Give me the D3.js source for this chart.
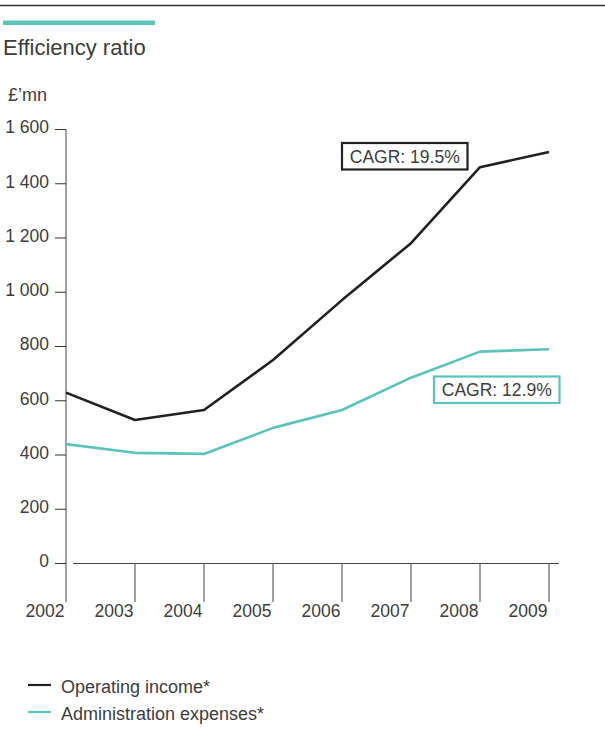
<!DOCTYPE html>
<html>
<head>
<meta charset="utf-8">
<script src="https://cdn.jsdelivr.net/npm/d3@7"></script>
<style>
  html, body { margin: 0; padding: 0; background: #fff; }
  svg { display: block; }
  text { font-family: "Liberation Sans", Arial, Helvetica, sans-serif; fill: #3d3d3d; }
</style>
</head>
<body>
<svg id="chart" width="605" height="731"></svg>
<script>
// Years on the horizontal axis
const years = [2002, 2003, 2004, 2005, 2006, 2007, 2008, 2009];
// £ millions
const operatingIncome = [630, 529, 566, 750, 971, 1181, 1461, 1517];
const adminExpenses   = [440, 408, 404, 500, 566, 685, 781, 790];
const yTicks = [0, 200, 400, 600, 800, 1000, 1200, 1400, 1600];
const seriesNames = ["Operating income*", "Administration expenses*"];
const cagrLabels = ["CAGR: 19.5%", "CAGR: 12.9%"];

const DARK = "#231f20";
const TEAL = "#5ac4ba";

const svg = d3.select("#chart");

// Header rule and accent bar
svg.append("line")
  .attr("x1", 0).attr("x2", 605).attr("y1", 5.5).attr("y2", 5.5)
  .attr("stroke", "#333").attr("stroke-width", 1.3);
svg.append("rect")
  .attr("x", 3).attr("y", 20.5).attr("width", 152).attr("height", 4.5)
  .attr("fill", TEAL);

svg.append("text")
  .attr("x", 3).attr("y", 55)
  .style("font-size", "22px")
  .text("Efficiency ratio");

svg.append("text")
  .attr("x", 8).attr("y", 101)
  .style("font-size", "18px")
  .text("£’mn");

const x = d3.scaleLinear().domain([2002, 2009]).range([66, 549]);
const y = d3.scaleLinear().domain([0, 1600]).range([563.5, 129.5]);

// Y axis
const yAxis = svg.append("g");
yAxis.append("line")
  .attr("x1", 66).attr("x2", 66)
  .attr("y1", y(1600)).attr("y2", 602)
  .attr("stroke", "#8a8a8a").attr("stroke-width", 1.6);
const yt = yAxis.selectAll("g.ytick").data(yTicks).join("g")
  .attr("class", "ytick")
  .attr("transform", d => `translate(0,${y(d)})`);
yt.append("line")
  .attr("x1", 55).attr("x2", 66)
  .attr("stroke", "#333").attr("stroke-width", 1);
yt.append("text")
  .attr("x", 49).attr("y", 3.8)
  .attr("text-anchor", "end")
  .style("font-size", "17.5px")
  .text(d => d3.format(",")(d).replace(/,/g, " "));

// Zero baseline
svg.append("line")
  .attr("x1", 73).attr("x2", 559)
  .attr("y1", y(0)).attr("y2", y(0))
  .attr("stroke", "#444").attr("stroke-width", 1.2);

// X ticks and year labels
const xt = svg.append("g").selectAll("g").data(years).join("g")
  .attr("transform", d => `translate(${x(d)},0)`);
xt.filter(d => d !== years[0]).append("line")
  .attr("y1", y(0)).attr("y2", 602)
  .attr("stroke", "#8a8a8a").attr("stroke-width", 1.6);
xt.append("text")
  .attr("x", -1.5).attr("y", 617)
  .attr("text-anchor", "end")
  .style("font-size", "17.5px")
  .text(d => d);

// Series lines
const line = d3.line()
  .x((d, i) => x(years[i]))
  .y(d => y(d));

svg.append("path")
  .datum(adminExpenses)
  .attr("d", line)
  .attr("fill", "none")
  .attr("stroke", TEAL).attr("stroke-width", 2.6)
  .attr("stroke-linejoin", "round");

svg.append("path")
  .datum(operatingIncome)
  .attr("d", line)
  .attr("fill", "none")
  .attr("stroke", DARK).attr("stroke-width", 2.6)
  .attr("stroke-linejoin", "round");

// CAGR callouts
function callout(bx, by, bw, bh, color, label) {
  svg.append("rect")
    .attr("x", bx).attr("y", by).attr("width", bw).attr("height", bh)
    .attr("fill", "#fff")
    .attr("stroke", color).attr("stroke-width", 2.2);
  svg.append("text")
    .attr("x", bx + bw / 2).attr("y", by + bh / 2 + 6.3)
    .attr("text-anchor", "middle")
    .style("font-size", "17.5px")
    .text(label);
}
callout(342, 143, 125.5, 26.5, DARK, cagrLabels[0]);
callout(434, 376.5, 125.5, 26.5, TEAL, cagrLabels[1]);

// Legend
const legend = svg.append("g").selectAll("g")
  .data(seriesNames).join("g")
  .attr("transform", (d, i) => `translate(0,${685 + i * 27})`);
legend.append("line")
  .attr("x1", 28).attr("x2", 51)
  .attr("stroke", (d, i) => i === 0 ? DARK : TEAL)
  .attr("stroke-width", 2.2);
legend.append("text")
  .attr("x", 61).attr("y", 7.5)
  .style("font-size", "18px")
  .text(d => d);
</script>
</body>
</html>
